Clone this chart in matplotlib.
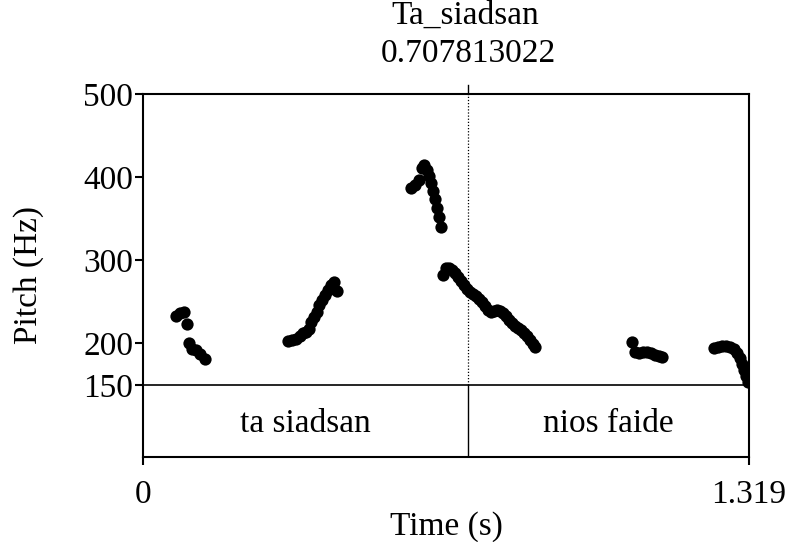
""" Praat-style pitch track with one text tier """

import matplotlib
matplotlib.use("Agg")
import matplotlib.pyplot as plt

plt.rcParams['font.family'] = ['Liberation Serif', 'DejaVu Serif']

# tiempos (s) y frecuencias (Hz), por tramos con voz
t1 = [0.072, 0.081, 0.089, 0.096, 0.100, 0.107, 0.115, 0.124, 0.135]
f1 = [233, 237, 238, 223, 200, 193, 192, 187, 181]

t2 = [0.316, 0.324, 0.333, 0.342, 0.348, 0.355, 0.361, 0.366, 0.372,
      0.379, 0.383, 0.390, 0.396, 0.403, 0.409, 0.416, 0.422]
f2 = [203, 204, 205, 209, 212, 214, 217, 226, 232,
      238, 246, 252, 258, 264, 270, 274, 263]

t3 = [0.583, 0.592, 0.601, 0.607, 0.612, 0.618, 0.623, 0.627, 0.631,
      0.636, 0.640, 0.644, 0.649]
f3 = [387, 390, 397, 411, 415, 409, 401, 393, 383, 374, 363, 352, 340]

t4 = [0.653, 0.660, 0.666, 0.673, 0.679, 0.686, 0.692, 0.699, 0.705,
      0.712, 0.718, 0.725, 0.731, 0.738, 0.744, 0.751, 0.758, 0.764,
      0.771, 0.777, 0.784, 0.790, 0.797, 0.803, 0.810, 0.816, 0.823,
      0.829, 0.836, 0.842, 0.849, 0.853]
f4 = [282, 291, 291, 288, 285, 280, 275, 270, 266, 262, 259, 257,
      253, 250, 245, 240, 238, 239, 240, 239, 237, 233, 228, 225,
      221, 219, 216, 213, 209, 204, 199, 196]

t5 = [1.064, 1.071, 1.080, 1.088, 1.097, 1.106, 1.114, 1.123, 1.130]
f5 = [202, 190, 189, 190, 190, 189, 186, 185, 184]

t6 = [1.243, 1.252, 1.260, 1.269, 1.278, 1.286, 1.293, 1.299, 1.304,
      1.308, 1.313, 1.317]
f6 = [195, 196, 197, 197, 196, 193, 189, 183, 175, 168, 161, 154]

tramos_t = [t1, t2, t3, t4, t5, t6]
tramos_f = [f1, f2, f3, f4, f5, f6]

tmax = 1.319
fmin = 150
fmax = 500
fondo = 63.4            # limite inferior (para dejar sitio al tier)
frontera = 0.707813022
etiquetas = ['ta siadsan', 'nios faide']
yticks = [150, 200, 300, 400, 500]

fig = plt.figure(figsize=(7.89, 5.42), dpi=100)
ax = fig.add_axes([0.1812, 0.1568, 0.7681, 0.6698])

for t, f in zip(tramos_t, tramos_f):
    ax.scatter(t, f, s=78, color='black', linewidths=0, zorder=3)

ax.set_xlim(0, tmax)
ax.set_ylim(fondo, fmax)

# tier de texto
ax.axhline(fmin, color='black', linewidth=1.2)
ax.plot([frontera, frontera], [fondo, fmin], color='black', linewidth=1.0)
ax.plot([frontera, frontera], [fmin, fmax], color='black', linewidth=0.9,
        linestyle=(0, (1, 1.5)))
ax.text(frontera / 2, (fondo + fmin) / 2 - 3, etiquetas[0], ha='center',
        va='center', fontsize=24)
ax.text((frontera + tmax) / 2, (fondo + fmin) / 2 - 3, etiquetas[1],
        ha='center', va='center', fontsize=24)

for s in ax.spines.values():
    s.set_linewidth(1.5)

ax.set_yticks(yticks)
ax.set_yticklabels([str(v) for v in yticks])
ax.set_xticks([0, tmax])
ax.set_xticklabels(['0', '1.319'])
ax.tick_params(axis='both', direction='out', length=6, width=1.5,
               labelsize=24, pad=1)
ax.tick_params(axis='x', pad=10)

# marca superior en la frontera
ax.plot([frontera, frontera], [1.0, 1.025], color='black', linewidth=1.0,
        transform=ax.get_xaxis_transform(), clip_on=False)
ax.annotate('0.707813022', xy=(frontera, 1.0),
            xycoords=('data', 'axes fraction'), xytext=(0, 18),
            textcoords='offset points', ha='center', va='bottom',
            fontsize=24)
fig.text(465 / 789, 1 - 16 / 542, 'Ta_siadsan', ha='center', va='center',
         fontsize=24)

ax.set_xlabel('Time (s)', fontsize=24, labelpad=1)
ax.set_ylabel('Pitch (Hz)', fontsize=24, labelpad=28)

fig.savefig('out.png', dpi=100)
